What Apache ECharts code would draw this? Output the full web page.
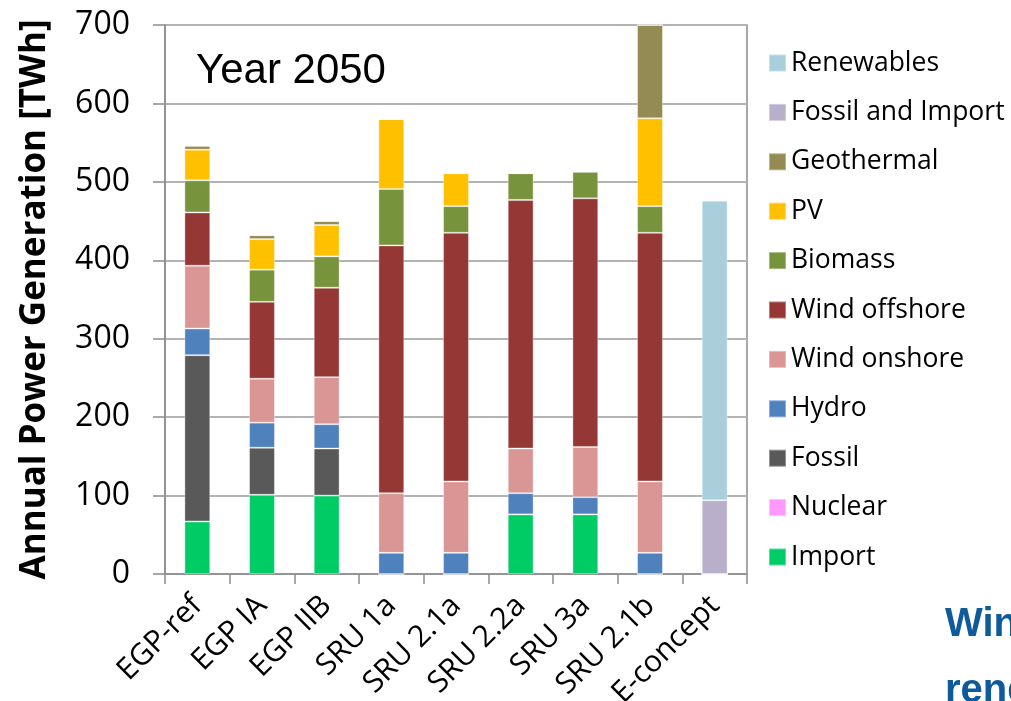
<!DOCTYPE html>
<html>
<head>
<meta charset="utf-8">
<script src="https://cdn.jsdelivr.net/npm/echarts@6/dist/echarts.min.js"></script>
<style>
  html, body { margin: 0; padding: 0; background: #ffffff; }
  #chart { width: 1011px; height: 701px; }
</style>
</head>
<body>
<div id="chart"></div>
<script>
// Annual power generation per scenario in 2050, TWh
const categories = ['EGP-ref', 'EGP IA', 'EGP IIB', 'SRU 1a', 'SRU 2.1a', 'SRU 2.2a', 'SRU 3a', 'SRU 2.1b', 'E-concept'];

const importGen       = [67, 101, 100, 0, 0, 76, 76, 0, 0];
const nuclearGen      = [0, 0, 0, 0, 0, 0, 0, 0, 0];
const fossilGen       = [212, 60, 60, 0, 0, 0, 0, 0, 0];
const hydroGen        = [34, 32, 31, 27, 27, 27, 22, 27, 0];
const windOnshoreGen  = [80, 56, 60, 76, 91, 57, 64, 91, 0];
const windOffshoreGen = [68, 98, 114, 316, 317, 317, 317, 317, 0];
const biomassGen      = [41, 41, 40, 72, 34, 34, 34, 34, 0];
const pvGen           = [39, 39, 40, 89, 42, 0, 0, 112, 0];
const geothermalGen   = [5, 5, 5, 0, 0, 0, 0, 119, 0];
const fossilImportGen = [0, 0, 0, 0, 0, 0, 0, 0, 94];
const renewablesGen   = [0, 0, 0, 0, 0, 0, 0, 0, 382];

const yTicks = [0, 100, 200, 300, 400, 500, 600, 700];

// stacking order, bottom to top
const stack = [
  { name: 'Import',           data: importGen,       color: '#00CC66' },
  { name: 'Nuclear',          data: nuclearGen,      color: '#FF99FF' },
  { name: 'Fossil',           data: fossilGen,       color: '#595959' },
  { name: 'Hydro',            data: hydroGen,        color: '#4F81BD' },
  { name: 'Wind onshore',     data: windOnshoreGen,  color: '#D99694' },
  { name: 'Wind offshore',    data: windOffshoreGen, color: '#953735' },
  { name: 'Biomass',          data: biomassGen,      color: '#77933C' },
  { name: 'PV',               data: pvGen,           color: '#FFC000' },
  { name: 'Geothermal',       data: geothermalGen,   color: '#948A54' },
  { name: 'Fossil and Import',data: fossilImportGen, color: '#B9AFCB' },
  { name: 'Renewables',       data: renewablesGen,   color: '#A9CEDC' }
];

const labelFont = 'Open Sans';

const chart = echarts.init(document.getElementById('chart'), null, { renderer: 'canvas' });

chart.setOption({
  animation: false,
  backgroundColor: '#ffffff',
  grid: {
    left: 165, right: 264, top: 25, bottom: 127,
    outerBoundsMode: 'none',
    containLabel: false,
    show: true, borderColor: '#8C8C8C', borderWidth: 1.5, backgroundColor: 'transparent'
  },
  legend: {
    orient: 'vertical',
    left: 763, top: 37,
    itemWidth: 17, itemHeight: 17,
    itemGap: 7.4,
    icon: 'rect',
    selectedMode: false,
    data: stack.map(s => s.name).reverse(),
    textStyle: {
      fontFamily: labelFont, fontSize: 26.5, color: '#000000',
      lineHeight: 30, padding: [0, 0, 12, 0]
    }
  },
  xAxis: {
    type: 'category',
    data: categories,
    axisLine: { lineStyle: { color: '#8C8C8C', width: 1.5 } },
    axisTick: { show: true, length: 10, lineStyle: { color: '#8C8C8C', width: 1.5 } },
    axisLabel: {
      rotate: 45, margin: 27, interval: 0,
      fontFamily: labelFont, fontSize: 30, color: '#000000'
    }
  },
  yAxis: {
    type: 'value',
    min: yTicks[0], max: yTicks[yTicks.length - 1], interval: 100,
    name: 'Annual Power Generation [TWh]',
    nameLocation: 'middle',
    nameRotate: 90,
    nameGap: 112,
    nameTextStyle: { fontFamily: labelFont, fontWeight: 'bold', fontSize: 35, color: '#000000' },
    axisLine: { show: true, lineStyle: { color: '#8C8C8C', width: 1.5 } },
    axisTick: { show: true, inside: false, length: 12, lineStyle: { color: '#8C8C8C', width: 1.5 } },
    splitLine: { show: true, lineStyle: { color: '#B3B3B3', width: 2 } },
    axisLabel: { margin: 35, fontFamily: labelFont, fontSize: 32, color: '#000000' }
  },
  graphic: [
    {
      type: 'text', left: 196, top: 50,
      style: { text: 'Year 2050', font: '42px "Liberation Sans", Arial, sans-serif', fill: '#000000' }
    },
    {
      type: 'text', left: 945, top: 605,
      style: { text: 'Wind', font: 'bold 40px "Liberation Sans", Arial, sans-serif', fill: '#0E5A9A' }
    },
    {
      type: 'text', left: 945, top: 671,
      style: { text: 'renewables', font: 'bold 40px "Liberation Sans", Arial, sans-serif', fill: '#0E5A9A' }
    }
  ],
  series: stack.map(s => ({
    name: s.name,
    type: 'bar',
    stack: 'total',
    barWidth: '40%',
    data: s.data,
    itemStyle: { color: s.color, borderColor: 'rgba(255,255,255,0.35)', borderWidth: 1 },
    emphasis: { disabled: true }
  }))
});
</script>
</body>
</html>
